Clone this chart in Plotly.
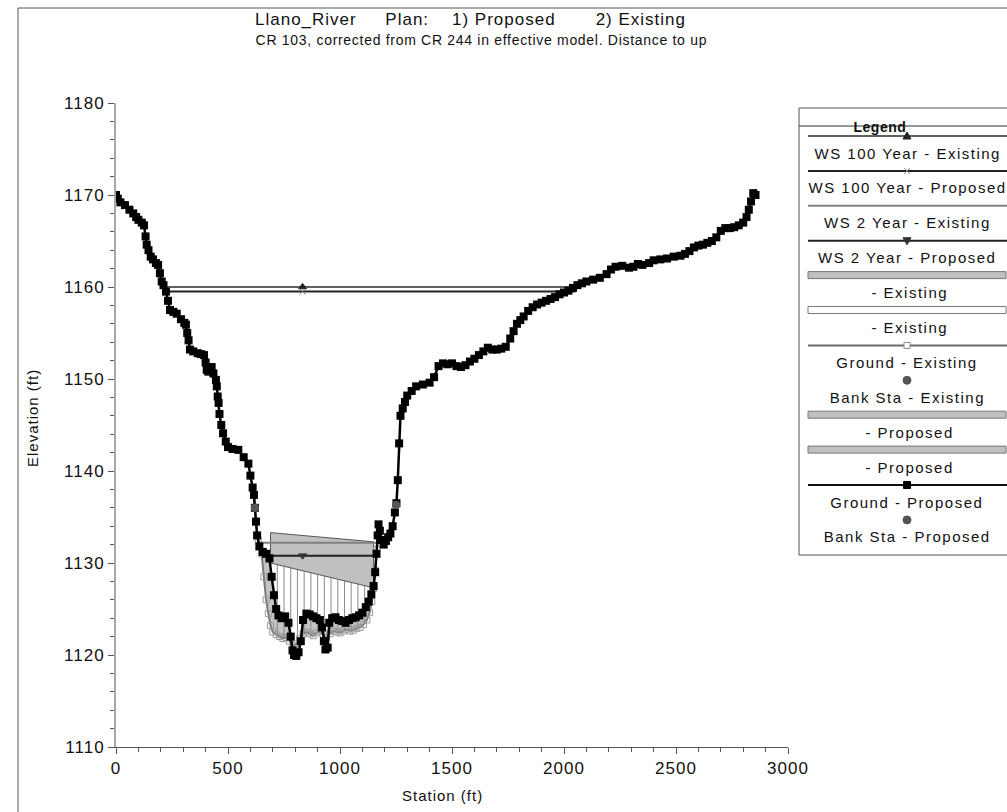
import plotly.graph_objects as go

# ---- cross-section data (station ft, elevation ft) ----
ground_prop_sta = [0, 8, 20, 40, 60, 77, 90, 100, 115, 125, 132, 137, 145, 155, 165, 178, 188, 196, 204, 212,
                   223, 232, 241, 256, 271, 290, 305, 312, 318, 324, 330, 345, 365, 380, 393, 400, 405, 412, 420,
                   427, 435, 446, 450, 454, 458, 462, 470, 478, 490, 500, 520, 546, 570, 591, 600, 610, 616, 620,
                   625, 630, 640, 655, 670, 685, 695, 705, 715, 725, 740, 755, 770, 780, 788, 795, 805, 815, 825,
                   835, 850, 865, 880, 895, 910, 920, 928, 935, 945, 952, 965, 980, 995, 1010, 1025, 1040, 1055,
                   1070, 1085, 1100, 1115, 1128, 1140, 1150, 1157, 1163, 1168, 1172, 1178, 1185, 1195, 1205, 1215,
                   1225, 1235, 1245, 1252, 1258, 1264, 1270, 1280, 1290, 1300, 1320, 1340, 1370, 1400, 1420, 1440,
                   1460, 1480, 1500, 1520, 1540, 1560, 1580, 1600, 1620, 1640, 1660, 1680, 1700, 1720, 1740, 1760,
                   1775, 1790, 1805, 1820, 1840, 1860, 1880, 1900, 1920, 1940, 1960, 1980, 2000, 2020, 2040, 2060,
                   2080, 2100, 2130, 2160, 2190, 2210, 2230, 2260, 2290, 2310, 2330, 2350, 2380, 2400, 2430, 2460,
                   2490, 2520, 2540, 2560, 2580, 2600, 2620, 2640, 2660, 2680, 2700, 2720, 2740, 2760, 2780, 2800,
                   2815, 2825, 2835, 2845, 2855]
ground_prop_elev = [1170.0, 1169.6, 1169.2, 1168.9, 1168.4, 1168.0, 1167.6, 1167.3, 1167.0, 1166.7, 1165.5, 1164.6,
                    1164.0, 1163.3, 1163.0, 1162.6, 1162.4, 1161.5, 1160.6, 1160.2, 1159.5, 1158.5, 1157.5, 1157.3,
                    1157.1, 1156.5, 1156.1, 1155.9, 1155.0, 1154.2, 1153.2, 1153.0, 1152.8, 1152.7, 1152.6, 1151.8,
                    1151.0, 1150.8, 1151.1, 1151.3, 1150.6, 1149.9, 1149.2, 1148.1, 1147.4, 1146.2, 1145.0, 1144.1,
                    1143.2, 1142.6, 1142.4, 1142.3, 1141.5, 1140.8, 1139.5, 1138.2, 1137.4, 1136.0, 1134.5, 1133.0,
                    1131.8, 1131.2, 1131.0, 1130.5, 1128.5, 1126.5, 1125.0, 1124.3, 1124.0, 1124.2, 1123.5, 1122.0,
                    1120.5, 1120.0, 1119.9, 1120.3, 1121.5, 1123.8, 1124.5, 1124.4, 1124.2, 1124.0, 1123.8, 1123.0,
                    1121.5, 1120.6, 1120.8, 1123.5, 1124.0, 1124.1, 1123.8, 1123.7, 1123.5, 1123.8, 1124.0, 1124.1,
                    1124.3, 1124.6, 1125.2, 1125.8, 1126.6, 1127.5, 1129.0, 1131.0, 1133.0, 1134.2, 1133.5, 1132.5,
                    1132.0, 1132.4, 1132.8, 1133.2, 1134.0, 1135.5, 1136.5, 1139.0, 1143.0, 1146.0, 1146.8, 1147.5,
                    1148.2, 1148.7, 1149.2, 1149.4, 1149.6, 1150.2, 1151.4, 1151.7, 1151.6, 1151.7, 1151.4, 1151.3,
                    1151.5, 1151.9, 1152.2, 1152.6, 1153.0, 1153.4, 1153.2, 1153.2, 1153.3, 1153.5, 1154.4, 1155.2,
                    1156.0, 1156.4, 1156.8, 1157.4, 1157.8, 1158.1, 1158.3, 1158.5, 1158.7, 1158.9, 1159.2, 1159.4,
                    1159.6, 1159.9, 1160.2, 1160.4, 1160.6, 1160.8, 1161.0, 1161.4, 1161.9, 1162.2, 1162.3, 1162.1,
                    1162.2, 1162.5, 1162.4, 1162.6, 1162.9, 1163.0, 1163.1, 1163.3, 1163.4, 1163.6, 1163.9, 1164.3,
                    1164.5, 1164.6, 1164.8, 1165.0, 1165.4, 1166.1, 1166.4, 1166.4, 1166.5, 1166.7, 1167.0, 1167.6,
                    1168.4, 1169.3, 1170.2, 1170.0]

ground_exist_sta = [616, 625, 635, 650, 660, 670, 680, 690, 700, 715, 730, 745, 760, 775, 790, 805, 820, 835, 850,
                    865, 880, 895, 910, 925, 940, 955, 970, 985, 1000, 1015, 1030, 1045, 1060, 1075, 1090, 1105,
                    1120, 1132, 1142, 1150, 1158, 1165, 1172]
ground_exist_elev = [1137.4, 1134.5, 1132.5, 1131.0, 1128.5, 1126.0, 1124.5, 1123.2, 1122.5, 1122.2, 1122.0,
                     1121.8, 1121.9, 1121.5, 1121.0, 1121.2, 1121.8, 1122.3, 1122.5, 1122.3, 1122.1, 1122.4,
                     1122.6, 1122.2, 1121.9, 1122.3, 1122.6, 1122.5, 1122.4, 1122.6, 1122.8, 1122.6, 1122.7,
                     1122.9, 1123.0, 1123.3, 1123.8, 1124.6, 1125.8, 1127.2, 1129.2, 1131.5, 1134.2]

# bank stations
bank_exist_sta = [620, 1250]
bank_exist_elev = [1136.0, 1136.3]
bank_prop_sta = [620, 1250]
bank_prop_elev = [1136.0, 1136.3]

# water surfaces: (left station, right station, elevation)
ws100_exist = (219, 2045, 1160.0)
ws100_prop = (221, 2050, 1159.5)
ws2_exist = (640, 1165, 1132.2)
ws2_prop = (645, 1163, 1130.8)
ws_marker_sta = 833

# roadway deck outline (proposed)
deck_sta = [690, 1150, 1150, 690]
deck_elev = [1133.3, 1132.3, 1127.3, 1130.0]

# pile bents under the deck (existing)
pier_sta = [720, 750, 780, 810, 840, 870, 900, 930, 960, 990, 1020, 1050, 1080, 1110, 1135]

legend_labels = ["WS 100 Year - Existing", "WS 100 Year - Proposed", "WS 2 Year - Existing",
                 "WS 2 Year - Proposed", " - Existing", " - Existing", "Ground - Existing",
                 "Bank Sta - Existing", " - Proposed", " - Proposed", "Ground - Proposed",
                 "Bank Sta - Proposed"]

fig = go.Figure()

# fill between existing and proposed ground in the channel
fig.add_trace(go.Scatter(
    x=ground_exist_sta + ground_prop_sta[57:108][::-1],
    y=ground_exist_elev + ground_prop_elev[57:108][::-1],
    fill="toself", fillcolor="#c4c4c4", line=dict(width=0), mode="lines",
    hoverinfo="skip", showlegend=False))


def interp(x, xs, ys):
    for i in range(len(xs) - 1):
        if xs[i] <= x <= xs[i + 1]:
            t = (x - xs[i]) / (xs[i + 1] - xs[i])
            return ys[i] + t * (ys[i + 1] - ys[i])
    return ys[-1]


# piers drawn from existing ground up to the deck soffit
px, py = [], []
for s in pier_sta:
    bot = interp(s, ground_exist_sta, ground_exist_elev)
    top = interp(s, [deck_sta[3], deck_sta[2]], [deck_elev[3], deck_elev[2]])
    px += [s, s, None]
    py += [bot, top, None]
fig.add_trace(go.Scatter(x=px, y=py, mode="lines", line=dict(color="#8a8a8a", width=1),
                         hoverinfo="skip", showlegend=False))

# deck polygon
fig.add_trace(go.Scatter(x=deck_sta + [deck_sta[0]], y=deck_elev + [deck_elev[0]], fill="toself",
                         fillcolor="#c0c0c0", line=dict(color="#555555", width=1), mode="lines",
                         showlegend=False))


# water surfaces
def ws_trace(ws, color, width, symbol, msize, mcolor):
    x0, x1, z = ws
    fig.add_trace(go.Scatter(x=[x0, x1], y=[z, z], mode="lines",
                             line=dict(color=color, width=width), showlegend=False))
    if symbol:
        fig.add_trace(go.Scatter(x=[ws_marker_sta], y=[z], mode="markers",
                                 marker=dict(symbol=symbol, size=msize, color=mcolor,
                                             line=dict(color=mcolor, width=1)),
                                 showlegend=False))


ws_trace(ws100_exist, "#606060", 2, "triangle-up", 7, "#222222")
ws_trace(ws100_prop, "#222222", 2, "x-thin-open", 6, "#888888")
ws_trace(ws2_exist, "#808080", 2, None, 0, None)
ws_trace(ws2_prop, "#222222", 2, "triangle-down", 7, "#333333")

# existing ground
fig.add_trace(go.Scatter(x=ground_exist_sta, y=ground_exist_elev, mode="lines+markers",
                         line=dict(color="#7a7a7a", width=2),
                         marker=dict(symbol="square-open", size=6, color="#9a9a9a"),
                         showlegend=False))
# proposed ground
fig.add_trace(go.Scatter(x=ground_prop_sta, y=ground_prop_elev, mode="lines+markers",
                         line=dict(color="#000000", width=2.5),
                         marker=dict(symbol="square", size=8, color="#000000"),
                         showlegend=False))
# bank stations
fig.add_trace(go.Scatter(x=bank_exist_sta, y=bank_exist_elev, mode="markers",
                         marker=dict(symbol="circle", size=8, color="#555555"), showlegend=False))
fig.add_trace(go.Scatter(x=bank_prop_sta, y=bank_prop_elev, mode="markers",
                         marker=dict(symbol="circle", size=8, color="#555555"), showlegend=False))

# ---- layout: plot area 116..788 px wide, 103..747 px tall ----
L, R, T, B = 116, 219, 103, 65
W, H = 1007, 812
PW, PH = W - L - R, H - T - B


def fx(px_):
    return (px_ - L) / PW


def fy(py_):
    return (H - B - py_) / PH


font = "Liberation Sans, Arial, sans-serif"

shapes = []
annotations = []

# outer frame
shapes.append(dict(type="rect", xref="paper", yref="paper", x0=fx(18), x1=fx(1030), y0=fy(830), y1=fy(8),
                   line=dict(color="#555555", width=1), layer="below"))

# titles
annotations.append(dict(xref="paper", yref="paper", x=fx(470), y=fy(19), showarrow=False,
                        text="Llano_River\u00a0\u00a0\u00a0\u00a0\u00a0Plan:\u00a0\u00a0\u00a0\u00a01) Proposed"
                             "\u00a0\u00a0\u00a0\u00a0\u00a0\u00a0\u00a02) Existing",
                        font=dict(family=font, size=17, color="#111111"), xanchor="center", yanchor="middle"))
annotations.append(dict(xref="paper", yref="paper", x=fx(481), y=fy(40), showarrow=False,
                        text="CR 103, corrected from CR 244 in effective model. Distance to up",
                        font=dict(family=font, size=14, color="#111111"), xanchor="center", yanchor="middle"))
annotations.append(dict(xref="paper", yref="paper", x=fx(33), y=fy(418), showarrow=False, textangle=-90,
                        text="Elevation (ft)", font=dict(family=font, size=15, color="#111111"),
                        xanchor="center", yanchor="middle"))
annotations.append(dict(xref="paper", yref="paper", x=fx(442), y=fy(795), showarrow=False,
                        text="Station (ft)", font=dict(family=font, size=15, color="#111111"),
                        xanchor="center", yanchor="middle"))

# legend box
lx0, lx1, ly0, ly1 = 799, 1030, 108, 555
shapes.append(dict(type="rect", xref="paper", yref="paper", x0=fx(lx0), x1=fx(lx1), y0=fy(ly1), y1=fy(ly0),
                   line=dict(color="#555555", width=1), fillcolor="white", layer="below"))
shapes.append(dict(type="line", xref="paper", yref="paper", x0=fx(lx0), x1=fx(lx1), y0=fy(126), y1=fy(126),
                   line=dict(color="#333333", width=1), layer="below"))
annotations.append(dict(xref="paper", yref="paper", x=fx(907), y=fy(117), showarrow=False, text="<b>Legend</b>",
                        font=dict(family=font, size=14, color="#111111")))

# sample glyphs in pixel units (y up)
glyph_paths = {
    "triangle-up": "M-4,-3 L4,-3 L0,4 Z",
    "triangle-down": "M-4,3 L4,3 L0,-4 Z",
    "x": "M-3,-3 L3,3 M-3,3 L3,-3",
}
legend_styles = [
    ("line", "#606060", "triangle-up", "#222222"),
    ("line", "#222222", "x", "#888888"),
    ("line", "#808080", None, None),
    ("line", "#222222", "triangle-down", "#333333"),
    ("fill", "#c0c0c0", None, None),
    ("fill", "#ffffff", None, None),
    ("line", "#6a6a6a", "square-open", "#8a8a8a"),
    ("dot", None, "circle", "#555555"),
    ("fill", "#c0c0c0", None, None),
    ("fill", "#c0c0c0", None, None),
    ("line", "#111111", "square", "#000000"),
    ("dot", None, "circle", "#555555"),
]
sx0, sx1 = 808, 1010
gx = fx(907)
for i, (label, (kind, col, sym, mcol)) in enumerate(zip(legend_labels, legend_styles)):
    yc = 136 + 34.9 * i
    if kind == "line":
        shapes.append(dict(type="line", xref="paper", yref="paper", x0=fx(sx0), x1=fx(sx1), y0=fy(yc), y1=fy(yc),
                           line=dict(color=col, width=2), layer="below"))
    elif kind == "fill":
        shapes.append(dict(type="rect", xref="paper", yref="paper", x0=fx(sx0), x1=fx(1006), y0=fy(yc + 3),
                           y1=fy(yc - 4), line=dict(color="#777777", width=1), fillcolor=col, layer="below"))
    common = dict(xref="paper", yref="paper", xsizemode="pixel", ysizemode="pixel", xanchor=gx, yanchor=fy(yc))
    if sym in glyph_paths:
        filled = sym != "x"
        shapes.append(dict(type="path", path=glyph_paths[sym], line=dict(color=mcol, width=1),
                           fillcolor=mcol if filled else None, **common))
    elif sym == "square":
        shapes.append(dict(type="rect", x0=-3.5, x1=3.5, y0=-3.5, y1=3.5, line=dict(color=mcol, width=1),
                           fillcolor=mcol, **common))
    elif sym == "square-open":
        shapes.append(dict(type="rect", x0=-3, x1=3, y0=-3, y1=3, line=dict(color=mcol, width=1),
                           fillcolor="white", **common))
    elif sym == "circle":
        shapes.append(dict(type="circle", x0=-4, x1=4, y0=-4, y1=4, line=dict(color=mcol, width=1),
                           fillcolor=mcol, **common))
    annotations.append(dict(xref="paper", yref="paper", x=fx(907), y=fy(yc + 17), showarrow=False, text=label,
                            font=dict(family=font, size=15, color="#111111"), xanchor="center",
                            yanchor="middle"))

fig.update_layout(
    width=W, height=H,
    margin=dict(l=L, r=R, t=T, b=B),
    paper_bgcolor="white", plot_bgcolor="white",
    showlegend=False,
    shapes=shapes, annotations=annotations,
    xaxis=dict(range=[0, 3000], tickvals=[0, 500, 1000, 1500, 2000, 2500, 3000], showgrid=False, zeroline=False,
               showline=True, linecolor="#555555", linewidth=1, ticks="outside", ticklen=6,
               tickcolor="#555555", minor=dict(dtick=100, ticks="outside", ticklen=4, tickcolor="#555555"),
               tickfont=dict(family=font, size=17, color="#111111")),
    yaxis=dict(range=[1110, 1180], tickvals=[1110, 1120, 1130, 1140, 1150, 1160, 1170, 1180], showgrid=False,
               zeroline=False, showline=True, linecolor="#a8a8a8", linewidth=2, ticks="outside", ticklen=6,
               tickcolor="#555555", minor=dict(dtick=2, ticks="outside", ticklen=4, tickcolor="#555555"),
               tickfont=dict(family=font, size=17, color="#111111")),
)

# widen text tracking the way the original plotting program spaces its glyphs
post_js = """
var gd = document.getElementById('{plot_id}');
var legendLabels = %s;
function track() {
  gd.querySelectorAll('text').forEach(function (t) {
    var s = t.textContent.replace(/\\u00a0/g, ' ');
    var ls = '1px';
    if (s.indexOf('CR 103') === 0) { ls = '0.7px'; }
    else if (legendLabels.indexOf(s) >= 0) { ls = '1.5px'; }
    else if (s === 'Legend') { ls = '0.5px'; }
    t.style.letterSpacing = ls;
  });
}
track();
gd.on('plotly_afterplot', track);
""" % (str(legend_labels).replace("'", '"'))

fig.write_html("out.html", post_script=post_js)
